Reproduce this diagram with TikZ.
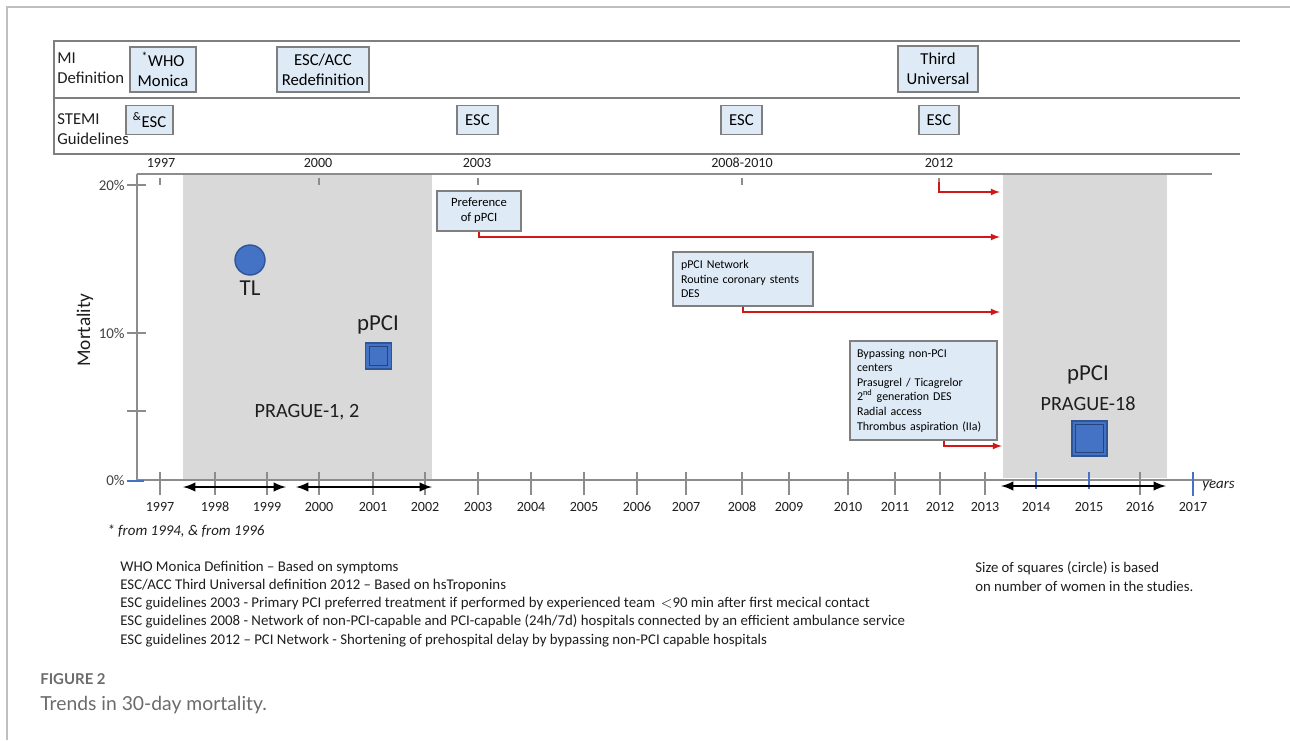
\documentclass[tikz,border=0pt]{standalone}
\usepackage{fontspec}
\setmainfont{Carlito}
\newfontfamily\capfont{Lato}
\usetikzlibrary{arrows.meta}
\definecolor{boxfill}{HTML}{DEEBF7}
\definecolor{boxline}{HTML}{7F7F7F}
\definecolor{axisgray}{HTML}{8C8C8C}
\definecolor{shadegray}{HTML}{D9D9D9}
\definecolor{markblue}{HTML}{4472C4}
\definecolor{markedge}{HTML}{2F5597}
\definecolor{linkred}{HTML}{D01818}
\definecolor{textdark}{HTML}{1E1E1E}
\definecolor{capgray}{HTML}{6B6B6B}
\tikzset{
  hbox/.style={draw=boxline, fill=boxfill, line width=0.7pt, inner sep=0pt, align=center, font=\fontsize{9.5}{11.4}\selectfont},
  ibox/.style={draw=boxline, fill=boxfill, line width=0.7pt, align=left, font=\fontsize{6.8}{8.3}\selectfont},
  lbl/.style={inner sep=0pt, text=textdark},
  redlink/.style={->, linkred, line width=0.8pt},
  span/.style={<->, line width=1.4pt},
  sqmark/.style={fill=markblue, draw=markedge, inner sep=0pt,
    path picture={\draw[markedge!80!black, line width=0.5pt]
      ([shift={(2.2pt,2.2pt)}]path picture bounding box.south west) rectangle
      ([shift={(-2.2pt,-2.2pt)}]path picture bounding box.north east);}}
}
\begin{document}
\begin{tikzpicture}[x=0.02cm, y=-0.02cm, >=latex, font=\fontsize{8}{9.6}\selectfont]
\useasboundingbox (0,0) rectangle (1290,740);
\draw[gray!50, line width=0.8pt] (7,740) -- (7,7) -- (1290,7);

% header table
\draw[boxline, line width=1pt] (1240,41) -- (54,41) -- (54,154) -- (1240,154);
\draw[boxline, line width=1pt] (54,98) -- (1240,98);
\node[lbl, anchor=west, align=left, font=\fontsize{9.5}{11.4}\selectfont] (mi) at (57,68) {MI\\Definition};
\node[lbl, anchor=west, align=left, font=\fontsize{9.5}{11.4}\selectfont] (stemi) at (57,129) {STEMI\\Guidelines};
\node[hbox, minimum width=1.32cm, minimum height=0.9cm] (who) at (163,69.5) {\textsuperscript{*}WHO\\Monica};
\node[hbox, minimum width=1.84cm, minimum height=0.9cm] (redef) at (323,69.5) {ESC/ACC\\Redefinition};
\node[hbox, minimum width=1.6cm, minimum height=0.92cm] (third) at (938,69) {Third\\Universal};
\node[hbox, minimum width=0.94cm, minimum height=0.58cm] (esc97) at (149.5,120) {\textsuperscript{\&}ESC};
\node[hbox, minimum width=0.82cm, minimum height=0.58cm] (esc03) at (477.5,120) {ESC};
\node[hbox, minimum width=0.82cm, minimum height=0.58cm] (esc08) at (741.5,120) {ESC};
\node[hbox, minimum width=0.8cm, minimum height=0.58cm] (esc12) at (939,120) {ESC};
\foreach \x/\t in {161/1997,318/2000,477/2003,742/2008-2010,939/2012}
  \node[lbl] (hy\x) at (\x,163) {\t};

% chart
\fill[shadegray] (183,174) rectangle (432,481);
\fill[shadegray] (1003,174) rectangle (1167,478);
\draw[axisgray, line width=1.1pt] (137,174) -- (1212,174);
\draw[axisgray, line width=0.8pt] (137,174) -- (137,481);
\draw[axisgray, line width=0.8pt] (137,480) -- (1212,480);
\foreach \y/\t in {185/20\%,333/10\%}
{
  \draw[axisgray, line width=0.8pt] (127,\y) -- (146,\y);
  \node[lbl, anchor=east, text=black!75, font=\fontsize{8.5}{10}\selectfont] at (125,\y) {\t};
}
\draw[axisgray, line width=0.8pt] (127,411) -- (146,411);
\draw[markblue, line width=0.9pt] (127,481) -- (144,481);
\node[lbl, anchor=east, text=black!75, font=\fontsize{8.5}{10}\selectfont] at (125,480) {0\%};
\foreach \x in {160,319,478,742,939}
  \draw[axisgray, line width=0.6pt] (\x,178) -- (\x,185);
\foreach \x/\yr in {160/1997,215/1998,267/1999,319/2000,373/2001,425/2002,478/2003,531/2004,584/2005,637/2006,686/2007,742/2008,789/2009,848/2010,895/2011,940/2012,985/2013,1140/2016}
{
  \draw[axisgray, line width=0.8pt] (\x,472) -- (\x,495);
  \node[lbl] (y\yr) at (\x,507) {\yr};
}
\foreach \x/\yr/\e in {1036/2014/489,1089/2015/489,1193/2017/496}
{
  \draw[markblue, line width=0.9pt] (\x,472) -- (\x,\e);
  \node[lbl] (y\yr) at (\x,507) {\yr};
}
\node[lbl, anchor=west, font=\fontsize{8.5}{10}\itshape] (years) at (1202,486) {years};
\node[lbl, anchor=west, font=\fontsize{8.5}{10}\itshape] (note) at (107,531) {* from 1994, \& from 1996};
\node[lbl, rotate=90, font=\fontsize{11}{13}\selectfont] (mort) at (85,330) {Mortality};

% study periods
\coordinate (a1) at (183,487); \coordinate (b1) at (286,487);
\coordinate (a2) at (296,487); \coordinate (b2) at (432,487);
\coordinate (a3) at (1001,486); \coordinate (b3) at (1166,486);
\draw[span] (a1) -- (b1);
\draw[span] (a2) -- (b2);
\draw[span] (a3) -- (b3);

% markers
\node[circle, fill=markblue, draw=markedge, line width=0.8pt, minimum size=0.6cm, inner sep=0pt] (tl) at (250,260) {};
\node[lbl, font=\fontsize{13}{15}\selectfont] (tltext) at (250,288) {TL};
\node[lbl, font=\fontsize{13}{15}\selectfont] (ppci1) at (378,325) {pPCI};
\node[sqmark, line width=1pt, minimum size=0.52cm] (sq1) at (378.5,356) {};
\node[lbl, font=\fontsize{11.5}{13}\selectfont] (prague12) at (307,412) {PRAGUE-1, 2};
\node[lbl, font=\fontsize{13}{15}\selectfont] (ppci2) at (1088,375) {pPCI};
\node[lbl, font=\fontsize{11.5}{13}\selectfont] (prague18) at (1088,404) {PRAGUE-18};
\node[sqmark, line width=1.2pt, minimum size=0.7cm] (sq2) at (1089.5,438.5) {};

% guideline boxes
\node[ibox, align=center, inner sep=0pt, minimum width=1.68cm, minimum height=0.8cm, font=\fontsize{7.2}{8.6}\selectfont] (pref) at (479,211) {Preference\\of pPCI};
\node[ibox, inner xsep=0.16cm, inner ysep=0pt, text width=2.48cm, minimum height=1.08cm] (net) at (743,279) {pPCI Network\\Routine coronary stents\\DES};
\node[ibox, inner xsep=0.14cm, inner ysep=0pt, text width=2.66cm, minimum height=1.98cm] (byp) at (923.5,390.5) {Bypassing non-PCI\\centers\\Prasugrel / Ticagrelor\\2\textsuperscript{nd} generation DES\\Radial access\\Thrombus aspiration (IIa)};
\coordinate (t12) at (939,182);
\coordinate (e12) at (1000,192);
\coordinate (e03) at (1000,237);
\coordinate (e08) at (1000,312);
\coordinate (e13) at (1002,446);
\draw[redlink] (t12) |- (e12);
\draw[redlink] (pref.south) |- (e03);
\draw[redlink] (net.south) |- (e08);
\draw[redlink] ([xshift=0.41cm]byp.south) |- (e13);

% legend text
\node[lbl, anchor=base west, align=left, font=\fontsize{8.45}{10.3}\selectfont] (defs) at (120,644) {WHO Monica Definition -- Based on symptoms\\ESC/ACC Third Universal definition 2012 -- Based on hsTroponins\\ESC guidelines 2003 - Primary PCI preferred treatment if performed by experienced team \,$<$90 min after first mecical contact\\ESC guidelines 2008 - Network of non-PCI-capable and PCI-capable (24h/7d) hospitals connected by an efficient ambulance service\\ESC guidelines 2012 -- PCI Network - Shortening of prehospital delay by bypassing non-PCI capable hospitals};
\node[lbl, anchor=base west, align=left, font=\fontsize{8.4}{10.8}\selectfont] (size) at (975,591) {Size of squares (circle) is based\\on number of women in the studies.};

% caption
\node[lbl, anchor=west, text=capgray, font=\capfont\bfseries\fontsize{8.5}{10}\selectfont] (fig) at (40,679) {FIGURE 2};
\node[lbl, anchor=west, text=capgray, font=\capfont\fontsize{11}{13}\selectfont] (cap) at (40,705) {Trends in 30-day mortality.};
\end{tikzpicture}
\end{document}
